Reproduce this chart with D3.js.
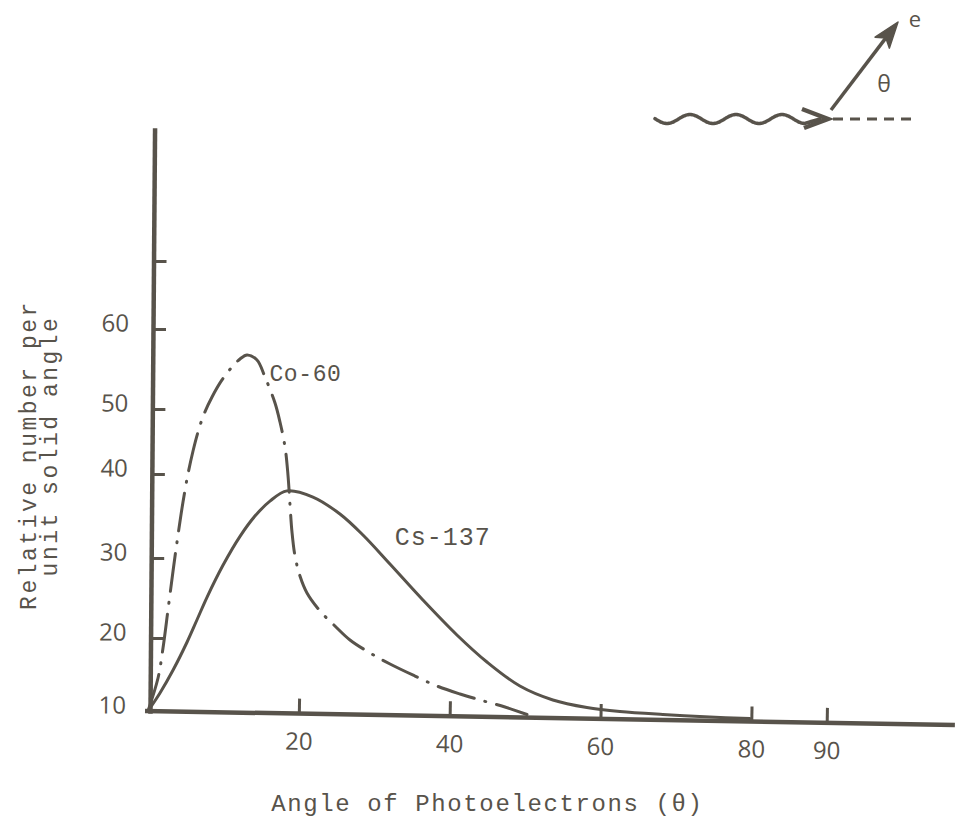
<!DOCTYPE html>
<html><head><meta charset="utf-8">
<script src="https://cdn.jsdelivr.net/npm/d3@7"></script>
<style>
html,body{margin:0;padding:0;background:#fff;}
svg{display:block;}
</style></head><body>
<svg id="chart" width="959" height="829"></svg>
<script>
// ---------- data ----------
const xTickValues = [20, 40, 60, 80, 90];
const yTickValues = [10, 20, 30, 40, 50, 60, 70];
const yLabelValues = [10, 20, 30, 40, 50, 60];
const seriesNames = ["Co-60", "Cs-137"];
const co60Angle = [0, 1.33, 1.99, 2.65, 3.32, 3.98, 4.64, 5.30, 5.97, 6.63, 7.43, 8.49, 9.81, 11.14, 12.20, 13.13, 14.45, 15.51, 16.84, 17.50, 18.17, 18.56, 18.83, 19.09, 19.49, 20.15, 21.08, 22.81, 24.79, 26.78, 29.44, 32.09, 35.40, 38.32, 41.37, 44.02, 47.33, 50.25];
const co60Value = [10, 14.52, 18.63, 23.5, 28.38, 32.74, 36.67, 40.0, 43.54, 46.46, 49.23, 51.5, 53.63, 55.25, 56.25, 56.75, 56.13, 54.0, 50.75, 48.0, 44.15, 39.88, 36.31, 33.10, 30.24, 27.75, 25.63, 23.38, 21.5, 19.73, 17.95, 16.44, 14.79, 13.42, 12.33, 11.51, 10.55, 9.52];
const cs137Angle = [0, 1.59, 3.31, 5.17, 6.50, 7.82, 9.94, 12.20, 14.18, 16.17, 18.43, 21.87, 25.45, 28.50, 32.08, 36.45, 40.96, 44.94, 49.31, 53.68, 58.19, 62.57, 68.27, 74.5, 79.8];
const cs137Value = [10, 12.47, 15.58, 19.42, 22.28, 25.09, 29.09, 32.58, 34.99, 36.77, 37.99, 37.26, 35.24, 32.74, 29.25, 24.75, 20.38, 16.71, 13.42, 11.51, 10.48, 9.93, 9.52, 9.18, 8.97];
const xTitle = "Angle of Photoelectrons (\u03b8)";
const yTitle = ["Relative number per", "unit solid angle"];

// ---------- drawing ----------
const ink = "#58534b";
const mono = "'Liberation Mono', 'DejaVu Sans Mono', monospace";
const sans = "'Open Sans', 'DejaVu Sans', sans-serif";
const svg = d3.select("#chart");
svg.append("rect").attr("width", 959).attr("height", 829).attr("fill", "#fff");

const x = d3.scaleLinear().domain([0, 107]).range([148, 955]);
// hand-drawn axis: the tick spacing is uneven, so a polylinear scale follows it
const y = d3.scaleLinear()
  .domain([10, 20, 30, 40, 50, 60, 70, 87])
  .range([711, 638, 558, 474, 409, 329, 261, 130]);

// y axis (slightly slanted like the drawing)
const yAxis = d3.axisLeft(y).tickValues(yTickValues)
  .tickSizeInner(-13).tickSizeOuter(0).tickPadding(24)
  .tickFormat(d => yLabelValues.includes(d) ? d : "");
const gy = svg.append("g")
  .attr("transform", `rotate(0.45,${x(0) + 2},${y(10)}) translate(${x(0) + 2},0)`)
  .call(yAxis);
gy.select(".domain").attr("stroke", ink).attr("stroke-width", 4.5).attr("stroke-linecap", "square");
gy.selectAll(".tick line").attr("stroke", ink).attr("stroke-width", 3)
  .attr("opacity", d => d === 10 ? 0 : 1);
gy.selectAll(".tick text").attr("fill", ink).attr("font-family", sans)
  .attr("font-size", 24).attr("dy", "0.1em");

// x axis (drawn with a small downward slope)
const xAxis = d3.axisBottom(x).tickValues(xTickValues)
  .tickSizeInner(-15).tickSizeOuter(0).tickPadding(19);
const gx = svg.append("g")
  .attr("transform", `rotate(1.0,${x(0)},${y(10)}) translate(0,${y(10)})`)
  .call(xAxis);
gx.select(".domain").attr("stroke", ink).attr("stroke-width", 4.5)
  .attr("d", `M${x(0) - 3},0H${x(107)}`);
gx.selectAll(".tick line").attr("stroke", ink).attr("stroke-width", 3);
gx.selectAll(".tick text").attr("fill", ink).attr("font-family", sans).attr("font-size", 24);

// curves
const line = d3.line().x(d => x(d[0])).y(d => y(d[1])).curve(d3.curveCatmullRom.alpha(0.5));
const csData = d3.zip(cs137Angle, cs137Value);
const coData = d3.zip(co60Angle, co60Value);
svg.append("path").datum(csData).attr("d", line)
  .attr("fill", "none").attr("stroke", ink).attr("stroke-width", 3)
  .attr("stroke-linecap", "round").attr("stroke-linejoin", "round");
svg.append("path").datum(coData).attr("d", line)
  .attr("fill", "none").attr("stroke", ink).attr("stroke-width", 3)
  .attr("stroke-dasharray", "38,11,1,11").attr("stroke-linecap", "round");

// series labels
svg.append("text").text(seriesNames[0])
  .attr("x", x(16.1)).attr("y", y(53.5))
  .attr("font-family", mono).attr("font-size", 23).attr("letter-spacing", 0.6).attr("fill", ink);
svg.append("text").text(seriesNames[1])
  .attr("x", x(32.7)).attr("y", y(31.5))
  .attr("font-family", mono).attr("font-size", 25).attr("letter-spacing", 1).attr("fill", ink);

// axis titles
svg.append("text").text(xTitle)
  .attr("x", x(45)).attr("y", 811).attr("text-anchor", "middle")
  .attr("font-family", mono).attr("font-size", 24).attr("letter-spacing", 1.6).attr("fill", ink);
svg.append("text").text(yTitle[0])
  .attr("transform", "translate(36,455) rotate(-90)").attr("text-anchor", "middle")
  .attr("font-family", mono).attr("font-size", 23).attr("letter-spacing", 2.5).attr("fill", ink);
svg.append("text").text(yTitle[1])
  .attr("transform", "translate(57,446) rotate(-90)").attr("text-anchor", "middle")
  .attr("font-family", mono).attr("font-size", 23).attr("letter-spacing", 2.5).attr("fill", ink);

// ---------- inset sketch: photon in, electron out at angle θ ----------
const hit = [828, 119];
const inset = svg.append("g").attr("fill", "none").attr("stroke", ink);
const wavePts = d3.range(655, 806, 1).map(t => [t, hit[1] - 4.5 * Math.cos(2 * Math.PI * (t - 690) / 46)]);
inset.append("path").attr("d", d3.line().curve(d3.curveBasis)(wavePts.concat([[hit[0] - 8, hit[1]]])))
  .attr("stroke-width", 3.5).attr("stroke-linecap", "round");
inset.append("path").attr("d", `M${hit[0] - 26},${hit[1] - 10}L${hit[0]},${hit[1]}L${hit[0] - 24},${hit[1] + 9}`)
  .attr("stroke-width", 4.5).attr("stroke-linejoin", "miter");
inset.append("line").attr("x1", hit[0] + 5).attr("y1", hit[1]).attr("x2", hit[0] + 88).attr("y2", hit[1])
  .attr("stroke-width", 3).attr("stroke-dasharray", "10,7");
const tip = [898, 22];
const start = [hit[0] + 3, hit[1] - 9];
const dx = tip[0] - start[0], dy = tip[1] - start[1], len = Math.hypot(dx, dy);
const u = [dx / len, dy / len], p = [-u[1], u[0]];
const back = [tip[0] - 26 * u[0], tip[1] - 26 * u[1]];
const notch = [tip[0] - 20 * u[0], tip[1] - 20 * u[1]];
inset.append("line").attr("x1", start[0]).attr("y1", start[1])
  .attr("x2", notch[0]).attr("y2", notch[1]).attr("stroke-width", 3.5);
inset.append("path")
  .attr("d", `M${tip[0]},${tip[1]}L${back[0] + 9 * p[0]},${back[1] + 9 * p[1]}L${notch[0]},${notch[1]}L${back[0] - 9 * p[0]},${back[1] - 9 * p[1]}Z`)
  .attr("fill", ink).attr("stroke-width", 1.5).attr("stroke-linejoin", "round");
svg.append("text").text("e").attr("x", 915).attr("y", 27).attr("text-anchor", "middle")
  .attr("font-family", sans).attr("font-size", 22).attr("fill", ink);
svg.append("text").text("\u03b8").attr("x", 884).attr("y", 92).attr("text-anchor", "middle")
  .attr("font-family", sans).attr("font-size", 23).attr("fill", ink);
</script>
</body></html>
